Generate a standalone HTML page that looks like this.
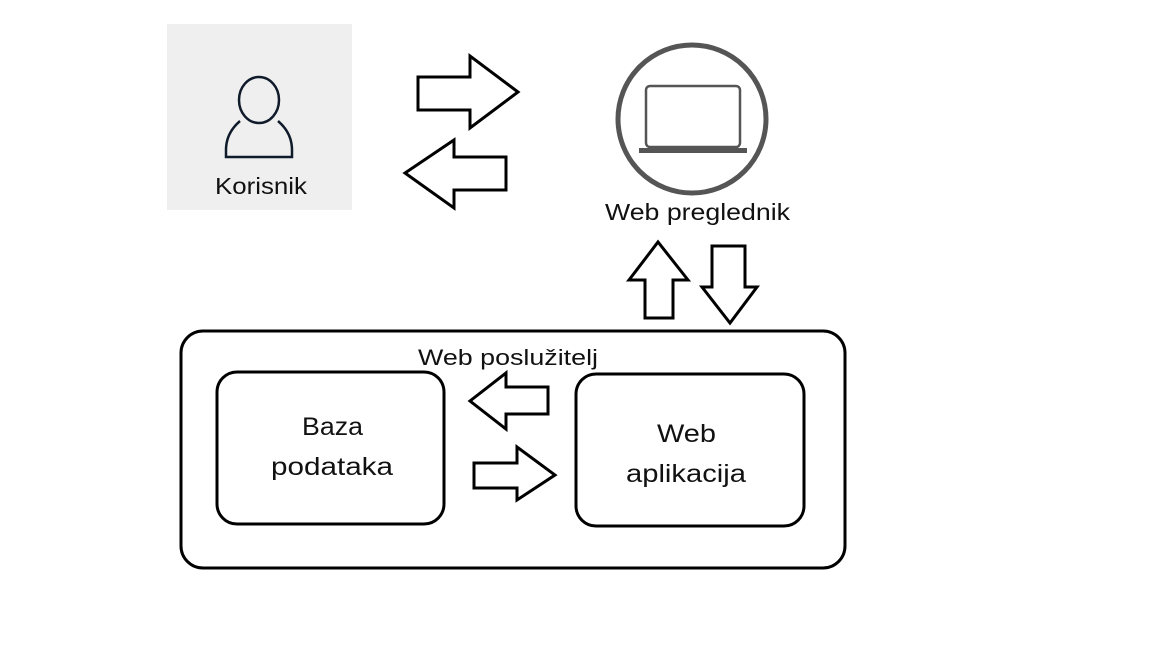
<!DOCTYPE html>
<html><head><meta charset="utf-8"><style>
html,body{margin:0;padding:0;background:#fff;}
svg{display:block;}
text{font-family:"Liberation Sans",sans-serif;fill:#111;}
</style></head><body>
<svg width="1152" height="648" viewBox="0 0 1152 648">
<rect x="167" y="24" width="185" height="186" fill="#efefef"/>
<ellipse cx="259" cy="100" rx="20" ry="23" fill="none" stroke="#0f1a2a" stroke-width="2.5"/>
<path d="M240 121 Q226 133 226 150 L226 157 L292 157 L292 150 Q292 133 278 121" fill="none" stroke="#0f1a2a" stroke-width="2.5"/>
<text x="215" y="194" font-size="23" textLength="92" lengthAdjust="spacingAndGlyphs">Korisnik</text>

<g fill="#fff" stroke="#000" stroke-width="3" stroke-linejoin="miter">
<polygon points="418,77 470,77 470,56 518,92 470,128 470,110 418,110"/>
<polygon points="506,157 454,157 454,140 405,173 454,208 454,190 506,190"/>
<polygon points="645,318 645,280 629,280 658,242 688,280 673,280 673,318"/>
<polygon points="712,246 745,246 745,287 757,287 730,323 702,287 712,287"/>
<polygon points="548,387 506,387 506,373 470,401 506,429 506,414 548,414"/>
<polygon points="474,463 517,463 517,447 555,475 517,500 517,488 474,488"/>
</g>

<circle cx="692" cy="119" r="74" fill="#fff" stroke="#555" stroke-width="5"/>
<rect x="646" y="86" width="94" height="61" rx="4" fill="none" stroke="#555" stroke-width="2.5"/>
<rect x="639" y="148" width="108" height="5" fill="#555"/>
<text x="605" y="220" font-size="23" textLength="185" lengthAdjust="spacingAndGlyphs">Web preglednik</text>

<rect x="181" y="331" width="664" height="237" rx="22" fill="none" stroke="#000" stroke-width="3"/>
<text x="418" y="365" font-size="22" textLength="180" lengthAdjust="spacingAndGlyphs">Web poslužitelj</text>
<rect x="217" y="372" width="227" height="152" rx="20" fill="#fff" stroke="#000" stroke-width="3"/>
<rect x="576" y="374" width="228" height="152" rx="20" fill="#fff" stroke="#000" stroke-width="3"/>
<text x="302" y="435" font-size="25" textLength="61" lengthAdjust="spacingAndGlyphs">Baza</text>
<text x="271" y="475" font-size="25" textLength="122" lengthAdjust="spacingAndGlyphs">podataka</text>
<text x="657" y="442" font-size="25" textLength="59" lengthAdjust="spacingAndGlyphs">Web</text>
<text x="626" y="482" font-size="25" textLength="120" lengthAdjust="spacingAndGlyphs">aplikacija</text>
</svg>
</body></html>
